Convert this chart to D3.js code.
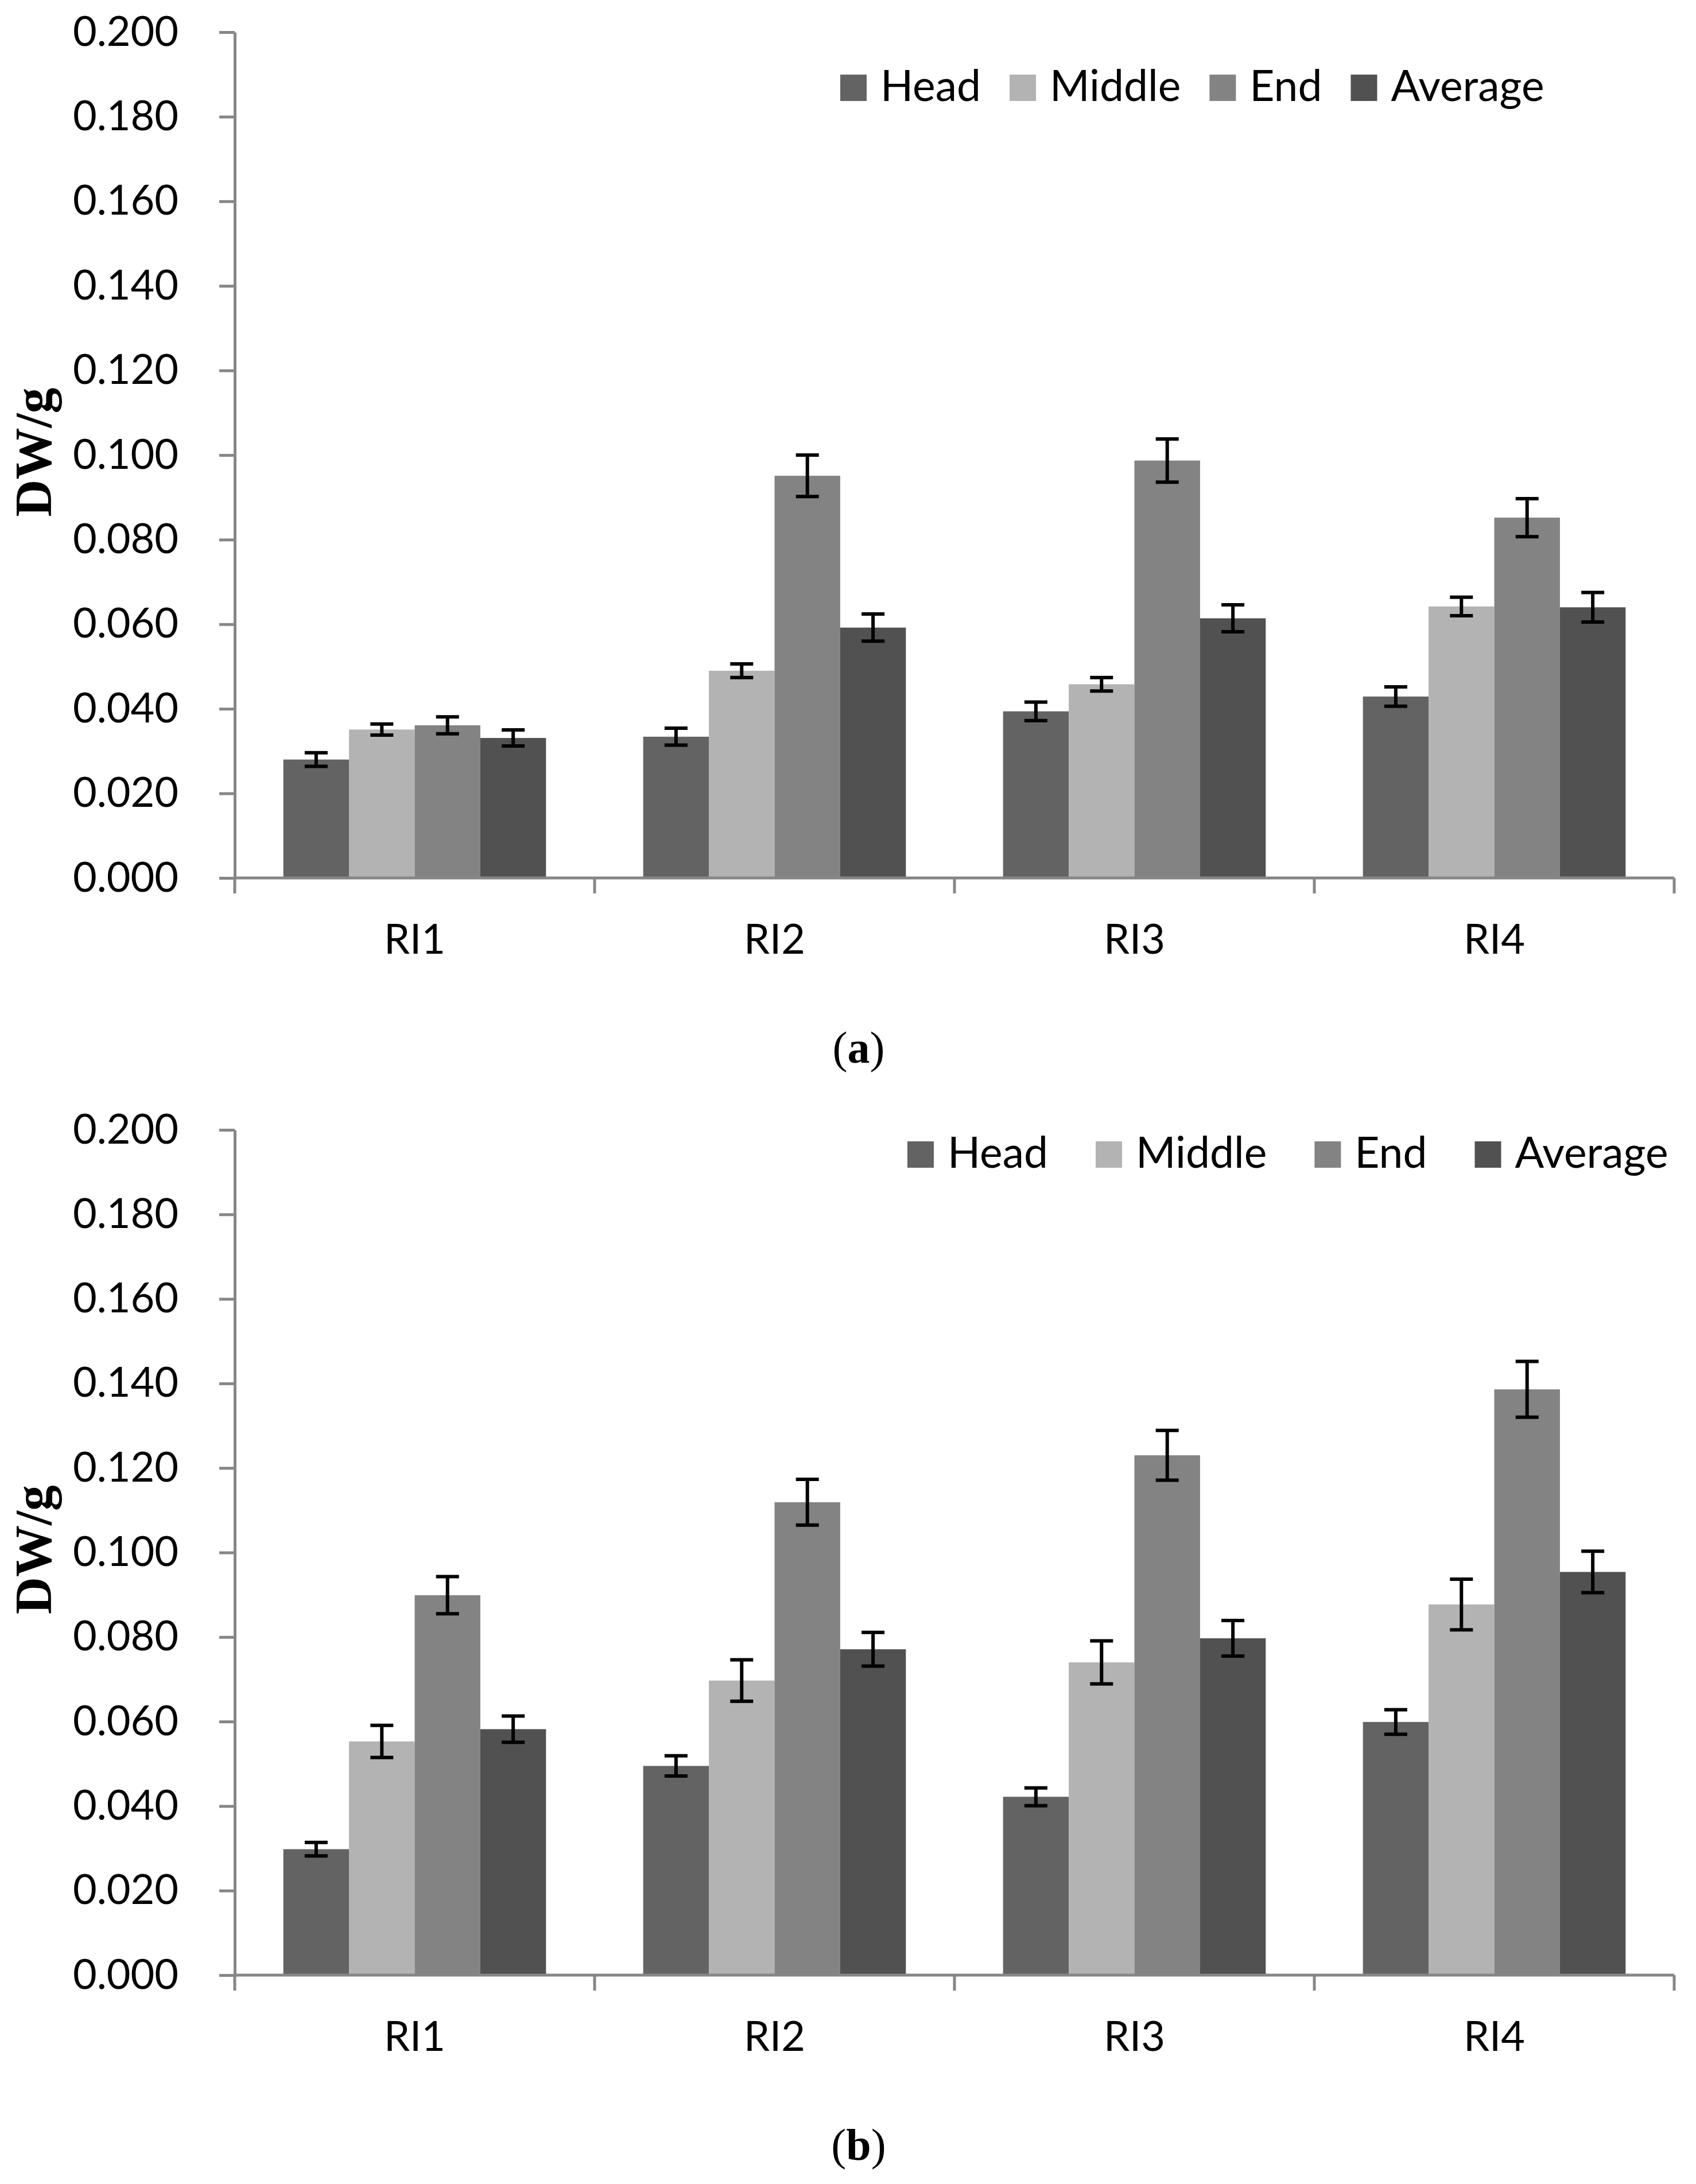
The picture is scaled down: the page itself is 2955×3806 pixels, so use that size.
<!DOCTYPE html>
<html>
<head>
<meta charset="utf-8">
<script src="https://cdn.jsdelivr.net/npm/d3@7"></script>
<style>
  body { margin: 0; background: #fff; }
  svg { display: block; background: #fff; }
</style>
</head>
<body>
<div id="chart"></div>
<script>
// categories and series
const categories = ['RI1', 'RI2', 'RI3', 'RI4'];
const series = ['Head', 'Middle', 'End', 'Average'];
const yTicks = [0, 0.02, 0.04, 0.06, 0.08, 0.10, 0.12, 0.14, 0.16, 0.18, 0.20];

// panel (a)
const headA = [0.0280, 0.0334, 0.0394, 0.0429];
const middleA = [0.0351, 0.0490, 0.0458, 0.0642];
const endA = [0.0361, 0.0951, 0.0987, 0.0852];
const averageA = [0.0331, 0.0592, 0.0614, 0.0640];
const headErrA = [0.0016, 0.0020, 0.0022, 0.0023];
const middleErrA = [0.0013, 0.0016, 0.0016, 0.0022];
const endErrA = [0.0020, 0.0049, 0.0051, 0.0045];
const averageErrA = [0.0019, 0.0032, 0.0032, 0.0035];

// panel (b)
const headB = [0.0298, 0.0495, 0.0422, 0.0599];
const middleB = [0.0553, 0.0697, 0.0740, 0.0877];
const endB = [0.0899, 0.1119, 0.1230, 0.1386];
const averageB = [0.0582, 0.0771, 0.0797, 0.0954];
const headErrB = [0.0016, 0.0024, 0.0021, 0.0029];
const middleErrB = [0.0038, 0.0049, 0.0051, 0.0060];
const endErrB = [0.0044, 0.0054, 0.0059, 0.0066];
const averageErrB = [0.0031, 0.0040, 0.0042, 0.0049];

(function () {
    const Width = 2955,
        Height = 3806,
        Left = 409,
        Right = 2917,
        AxisColor = '#868686',
        TickLen = 27,
        FontSize = 72,
        LegendFontSize = 75,
        SansFont = "Lato, 'Open Sans', sans-serif",
        SerifFont = "'Liberation Serif', 'DejaVu Serif', serif",
        colors = ['#636363', '#b3b3b3', '#838383', '#515151'];

    const svg = d3.select('#chart')
        .append('svg')
        .attr('width', Width)
        .attr('height', Height);

    function panel(cfg) {
        const x0 = d3.scaleBand().domain(categories).range([Left, Right]);
        const x1 = d3.scaleBand().domain(series)
            .range([0, x0.bandwidth()])
            .paddingOuter(0.74);
        const y = d3.scaleLinear().domain([0, 0.2]).range([cfg.bottom, cfg.top]);
        const color = d3.scaleOrdinal().domain(series).range(colors);

        const g = svg.append('g');

        // y axis
        g.append('g')
            .attr('transform', `translate(${Left},0)`)
            .call(d3.axisLeft(y)
                .tickValues(yTicks)
                .tickFormat(d3.format('.3f'))
                .tickSize(TickLen)
                .tickSizeOuter(0)
                .tickPadding(71))
            .call(s => s.selectAll('.domain, line')
                .attr('stroke', AxisColor)
                .attr('stroke-width', 5))
            .call(s => s.selectAll('text')
                .attr('font-family', SansFont)
                .attr('font-size', FontSize)
                .attr('fill', '#000'));

        // bars
        const rows = series.map((s, i) => categories.map((c, j) => ({
            s: s, c: c, v: cfg.values[i][j], e: cfg.errors[i][j]
        })));

        const groups = g.selectAll('.series')
            .data(rows)
            .enter().append('g')
            .attr('class', 'series');

        groups.selectAll('rect')
            .data(d => d)
            .enter().append('rect')
            .attr('x', d => x0(d.c) + x1(d.s))
            .attr('y', d => y(d.v))
            .attr('width', x1.bandwidth())
            .attr('height', d => y(0) - y(d.v))
            .attr('fill', d => color(d.s));

        // error bars
        const errs = groups.selectAll('.err')
            .data(d => d)
            .enter().append('g')
            .attr('class', 'err')
            .attr('stroke', '#000')
            .attr('stroke-width', 6);
        const cx = d => x0(d.c) + x1(d.s) + x1.bandwidth() / 2;
        errs.append('line')
            .attr('x1', cx).attr('x2', cx)
            .attr('y1', d => y(d.v + d.e))
            .attr('y2', d => y(d.v - d.e));
        errs.append('line')
            .attr('x1', d => cx(d) - 20).attr('x2', d => cx(d) + 20)
            .attr('y1', d => y(d.v + d.e))
            .attr('y2', d => y(d.v + d.e));
        errs.append('line')
            .attr('x1', d => cx(d) - 20).attr('x2', d => cx(d) + 20)
            .attr('y1', d => y(d.v - d.e))
            .attr('y2', d => y(d.v - d.e));

        // x axis with ticks at category boundaries
        const bounds = categories.map(c => x0(c)).concat([x0.range()[1]]);
        g.append('line')
            .attr('x1', Left).attr('x2', Right)
            .attr('y1', y(0)).attr('y2', y(0))
            .attr('stroke', AxisColor)
            .attr('stroke-width', 5);
        g.selectAll('.xtick')
            .data(bounds)
            .enter().append('line')
            .attr('class', 'xtick')
            .attr('x1', d => d).attr('x2', d => d)
            .attr('y1', y(0)).attr('y2', y(0) + TickLen)
            .attr('stroke', AxisColor)
            .attr('stroke-width', 5);
        g.selectAll('.cat-label')
            .data(categories)
            .enter().append('text')
            .attr('class', 'cat-label')
            .attr('x', d => x0(d) + x0.bandwidth() / 2)
            .attr('y', y(0) + 132)
            .attr('text-anchor', 'middle')
            .attr('font-family', SansFont)
            .attr('font-size', FontSize)
            .text(d => d);

        // y title
        g.append('text')
            .attr('transform', `translate(89,${(cfg.top + cfg.bottom) / 2 - 5}) rotate(-90)`)
            .attr('text-anchor', 'middle')
            .attr('font-family', SerifFont)
            .attr('font-weight', 'bold')
            .attr('font-size', 90)
            .text('DW/g');

        // legend
        const legend = g.append('g')
            .attr('transform', `translate(${cfg.legendX},${cfg.legendY})`);
        let lx = 0;
        series.forEach((s, i) => {
            const item = legend.append('g').attr('transform', `translate(${lx},0)`);
            item.append('rect')
                .attr('x', 0).attr('y', -46)
                .attr('width', 46).attr('height', 46)
                .attr('fill', color(s));
            const t = item.append('text')
                .attr('x', 70)
                .attr('y', 0)
                .attr('font-family', SansFont)
                .attr('font-size', LegendFontSize)
                .text(s);
            lx += 70 + t.node().getComputedTextLength() + cfg.legendGap;
        });

        // caption
        const cap = g.append('text')
            .attr('x', 1496)
            .attr('y', cfg.captionY)
            .attr('text-anchor', 'middle')
            .attr('font-family', SerifFont)
            .attr('font-size', 78);
        cap.append('tspan').text('(');
        cap.append('tspan').attr('font-weight', 'bold').text(cfg.caption);
        cap.append('tspan').text(')');
    }

    panel({
        top: 56, bottom: 1530,
        values: [headA, middleA, endA, averageA],
        errors: [headErrA, middleErrA, endErrA, averageErrA],
        legendX: 1464, legendY: 176, legendGap: 50,
        caption: 'a', captionY: 1852
    });

    panel({
        top: 1969, bottom: 3442,
        values: [headB, middleB, endB, averageB],
        errors: [headErrB, middleErrB, endErrB, averageErrB],
        legendX: 1581, legendY: 2035, legendGap: 83,
        caption: 'b', captionY: 3764
    });
})();
</script>
</body>
</html>
